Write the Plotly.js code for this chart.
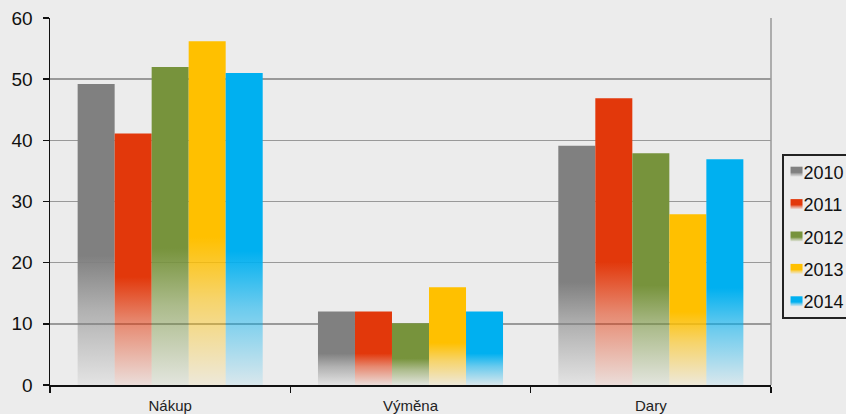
<!DOCTYPE html>
<html><head><meta charset="utf-8">
<script src="https://cdn.plot.ly/plotly-3.0.1.min.js"></script>
<style>html,body{margin:0;padding:0;background:#ececec;}</style>
</head><body>
<div id="chart" style="width:846px;height:414px;"></div>
<script>
const categories = ["Nákup", "Výměna", "Dary"];
const years = ["2010", "2011", "2012", "2013", "2014"];
const v2010 = [49.2, 12, 39.1];
const v2011 = [41.1, 12, 46.9];
const v2012 = [52, 10.1, 37.9];
const v2013 = [56.2, 16, 27.9];
const v2014 = [51, 12, 36.9];
const seriesValues = [v2010, v2011, v2012, v2013, v2014];
const colors = ["#808080", "#e2380b", "#77933c", "#ffc000", "#00b0f0"];

const font = "Liberation Sans, Arial, Helvetica, sans-serif";
const traces = years.map((y, i) => ({
  type: "bar", name: y, x: categories, y: seriesValues[i],
  marker: {color: colors[i], line: {width: 0}},
  legendgroup: y, hoverinfo: "none"
}));

const layout = {
  width: 846, height: 414,
  paper_bgcolor: "#ececec", plot_bgcolor: "#ececec",
  margin: {l: 50, r: 75, t: 18, b: 29, autoexpand: false},
  barmode: "group", bargap: 0.23, bargroupgap: 0,
  showlegend: true,
  legend: {x: 1.0153, y: 0.6349, xanchor: "left", yanchor: "top",
    bordercolor: "#222", borderwidth: 1.5, bgcolor: "#ececec",
    font: {family: font, size: 18, color: "#111"}, tracegroupgap: 6,
    itemwidth: 30},
  xaxis: {showline: true, linecolor: "#111", linewidth: 1.5, ticks: "outside",
    tickson: "boundaries", ticklen: 6, tickcolor: "#111", tickwidth: 1.5,
    ticklabelstandoff: 6,
    tickfont: {family: font, size: 15, color: "#222"}, showgrid: false},
  yaxis: {range: [0, 60], dtick: 10, showline: true, linecolor: "#111", linewidth: 1.5,
    ticks: "outside", ticklen: 6, tickcolor: "#111", tickwidth: 1.5,
    tickfont: {family: font, size: 19, color: "#111"}, ticklabelstandoff: 6,
    showgrid: true, gridcolor: "#999", gridwidth: 1.5, zeroline: false},
  shapes: [{type: "line", xref: "paper", yref: "paper", x0: 1, x1: 1, y0: 0, y1: 1,
    line: {color: "#999", width: 1.5}}]
};

Plotly.newPlot("chart", traces, layout, {staticPlot: true}).then(applyGradients);

function applyGradients() {
  const svg = document.querySelector("#chart .main-svg");
  const defs = svg.querySelector("defs");
  const ns = "http://www.w3.org/2000/svg";
  colors.forEach((c, i) => {
    const g = document.createElementNS(ns, "linearGradient");
    g.setAttribute("id", "grad" + i);
    g.setAttribute("x1", "0"); g.setAttribute("y1", "0");
    g.setAttribute("x2", "0"); g.setAttribute("y2", "1");
    [[0, 1], [0.57, 1], [0.75, 0.55], [1, 0.08]].forEach(([o, a]) => {
      const s = document.createElementNS(ns, "stop");
      s.setAttribute("offset", o);
      s.setAttribute("stop-color", c);
      s.setAttribute("stop-opacity", a);
      g.appendChild(s);
    });
    defs.appendChild(g);
  });
  document.querySelectorAll("#chart .barlayer .trace").forEach((tr, i) => {
    tr.querySelectorAll("path").forEach(p => { p.style.fill = "url(#grad" + i + ")"; });
  });
  document.querySelectorAll("#chart .legend .traces").forEach((tr, i) => {
    const pts = tr.querySelector(".legendpoints");
    if (pts) pts.setAttribute("transform", "translate(-7,0)");
    tr.querySelectorAll(".legendpoints path").forEach(p => {
      p.style.fill = "url(#grad" + i + ")";
      p.setAttribute("d", "M6,5H-6V-5H6Z");
    });
    const t = tr.querySelector(".legendtext");
    if (t) t.setAttribute("x", "20");
  });
  const lg = document.querySelector("#chart .legend");
  lg.querySelectorAll("[clip-path]").forEach(e => e.removeAttribute("clip-path"));
  const m = /translate\(\s*([-\d.]+)[ ,]+([-\d.]+)/.exec(lg.getAttribute("transform") || "");
  const ly = m ? parseFloat(m[2]) : 0;
  const bg = lg.querySelector(".bg");
  if (bg) {
    bg.setAttribute("width", "120");
    bg.setAttribute("y", String(155 - ly));
    bg.setAttribute("height", "163");
  }
}
</script>
</body></html>
